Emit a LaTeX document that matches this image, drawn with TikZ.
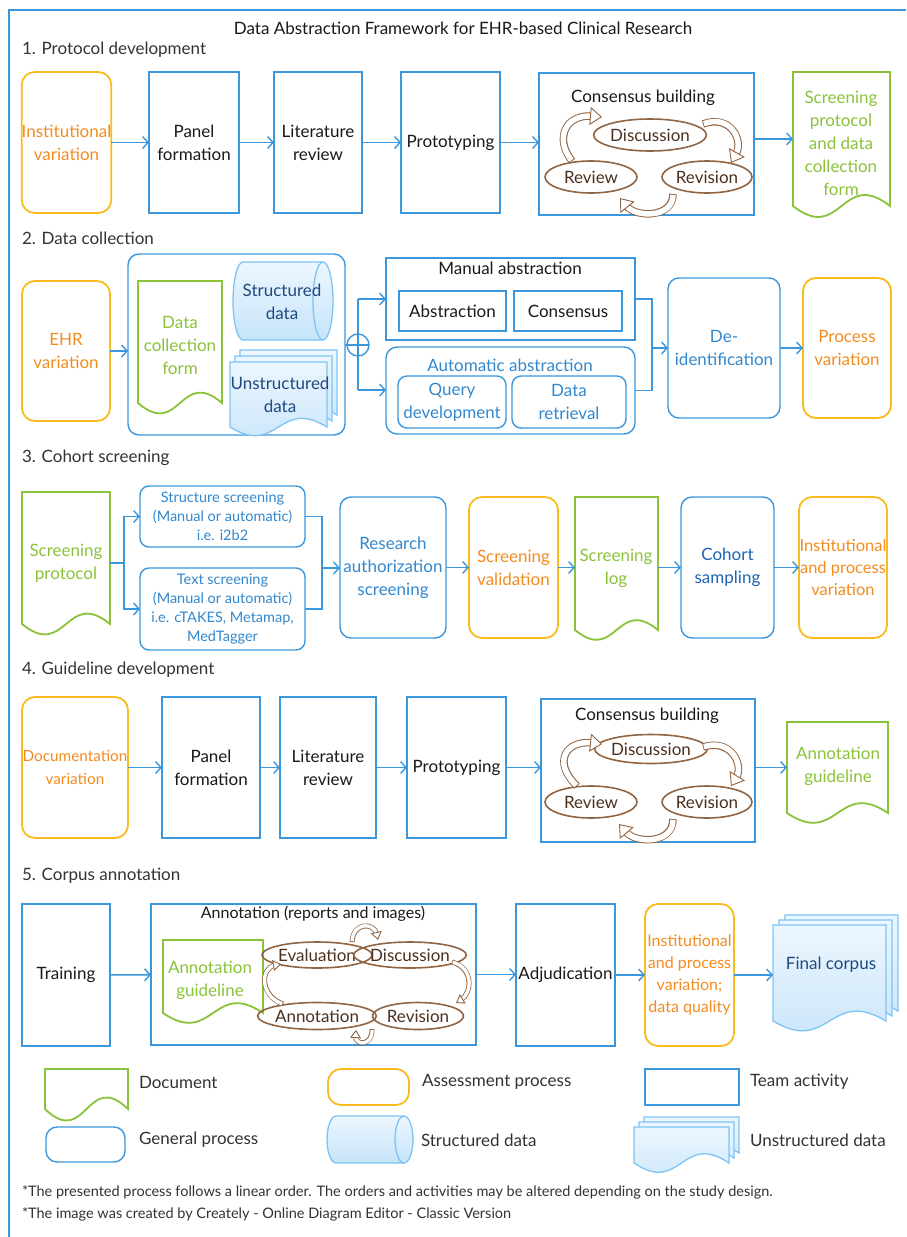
\documentclass[tikz,border=0pt]{standalone}
\usepackage{fontspec}
\setmainfont{Lato}
\usetikzlibrary{arrows.meta,calc,shapes.geometric,backgrounds}
\definecolor{cblue}{RGB}{58,150,221}
\definecolor{cgold}{RGB}{250,187,30}
\definecolor{corange}{RGB}{242,140,30}
\definecolor{cgreen}{RGB}{138,194,58}
\definecolor{cbrown}{RGB}{145,100,66}
\definecolor{cbtext}{RGB}{75,48,30}
\definecolor{ctext}{RGB}{25,25,25}
\definecolor{chead}{RGB}{50,50,50}
\definecolor{cnavy}{RGB}{30,72,128}
\definecolor{cmid}{RGB}{50,135,205}
\definecolor{ccoh}{RGB}{28,100,180}
\definecolor{clb}{RGB}{125,196,244}
\definecolor{cft}{RGB}{236,246,254}
\definecolor{cfb}{RGB}{198,228,250}
\newcommand{\fmain}{\fontsize{17}{23}\selectfont}
\newcommand{\fmed}{\fontsize{16}{22}\selectfont}
\newcommand{\fdoc}{\fontsize{15.3}{23}\selectfont}
\newcommand{\fsmall}{\fontsize{14.5}{19}\selectfont}
\newcommand{\ffoot}{\fontsize{14.5}{18}\selectfont}
% box by corners: style, name, x1, y1, x2, y2, text
\newcommand{\bx}[7]{%
  \pgfmathsetmacro\bxw{#5-#3}\pgfmathsetmacro\bxh{#6-#4}%
  \node[#1, minimum width=\bxw pt, minimum height=\bxh pt] (#2) at ({(#3+#5)/2},{(#4+#6)/2}) {#7};}
% document sheet: node, options, wave, shift
\newcommand{\docsheet}[4]{%
  \path[#2] ([shift={#4}]#1.south west) -- ([shift={#4}]#1.north west) -- ([shift={#4}]#1.north east) -- ([shift={#4}]#1.south east)
    .. controls ([shift={#4},shift={(0,-#3)}]#1.south) and ([shift={#4},shift={(0,#3)}]#1.south) .. ([shift={#4}]#1.south west) -- cycle;}
\newcommand{\multidoc}[4]{%
  \docsheet{#1}{draw=clb, line width=1.3pt, top color=cft, bottom color=cfb}{#2}{(2*#3,-2*#4)}
  \docsheet{#1}{draw=clb, line width=1.3pt, top color=cft, bottom color=cfb}{#2}{(#3,-#4)}
  \docsheet{#1}{draw=clb, line width=1.3pt, top color=cft, bottom color=cfb}{#2}{(0,0)}}
% cylinder lying on its side: x1,y1,x2,y2,rx
\newcommand{\cylinder}[5]{%
  \pgfmathsetmacro\cya{#1+#5}\pgfmathsetmacro\cyb{#3-#5}\pgfmathsetmacro\cyr{(#4-#2)/2}%
  \path[draw=clb, line width=1.3pt, top color=cft, bottom color=cfb] (\cya,#2) -- (\cyb,#2)
    arc[start angle=90,end angle=-90,x radius=#5pt,y radius=\cyr pt] -- (\cya,#4)
    arc[start angle=270,end angle=90,x radius=#5pt,y radius=\cyr pt] -- cycle;
  \draw[draw=clb, line width=1.3pt] (\cyb,#2) arc[start angle=90,end angle=270,x radius=#5pt,y radius=\cyr pt];}
% hollow curved arrow: outer, inner, head length, head width, shorten, path
\newcommand{\harrow}[6]{%
  \draw[cbrown, line width=#1pt, shorten >=#5pt] #6;
  \draw[white, line width=#2pt, shorten >=#5pt, shorten <=0.9pt] #6;
  \draw[cbrown, line width=0.9pt, dash pattern=on 0pt off 3000pt, -{Triangle[length=#3pt, width=#4pt, fill=white]}] #6;}
\tikzset{
  team/.style={draw=cblue, line width=1.4pt},
  gproc/.style={draw=cblue, line width=1.4pt, rounded corners=11pt},
  assess/.style={draw=cgold, line width=1.8pt, rounded corners=13pt, text=corange},
  docn/.style={},
  ell/.style={draw=cbrown, line width=1.6pt, ellipse, text=cbtext},
  arr/.style={draw=cblue, line width=1.4pt, -{Straight Barb[length=5.5pt,width=12pt]}},
  ln/.style={draw=cblue, line width=1.4pt},
  gdoc/.style={draw=cgreen, line width=1.8pt},
  hd/.style={anchor=west, text=chead}
}
\begin{document}
\begin{tikzpicture}[x=1pt,y=-1pt, every node/.style={inner sep=0pt, outer sep=0pt, align=center, font=\fmain, text=ctext}]
\useasboundingbox (0,0) rectangle (906,1237);
\draw[cblue, line width=1.5pt] (9,1237) -- (9,10) -- (906,10);
\node (title) at (463,28) {Data Abstraction Framework for EHR-based Clinical Research};
\node[hd] (h1) at (22,50) {1. Protocol development};
\node[hd] (h2) at (22,238) {2. Data collection};
\node[hd] (h3) at (22,458) {3. Cohort screening};
\node[hd] (h4) at (22,670) {4. Guideline development};
\node[hd] (h5) at (22,876) {5. Corpus annotation};

% ---------- Section 1
\bx{assess}{inst1}{22}{72}{111}{213}{Institutional\\variation}
\bx{team}{panel1}{149}{72}{239}{213}{Panel\\formation}
\bx{team}{lit1}{274}{72}{362}{213}{Literature\\review}
\bx{team}{proto1}{401}{72}{500}{213}{Prototyping}
\bx{team}{cons1}{539}{73}{754}{215}{}
\node (cons1t) at (643,98) {Consensus building};
\node[ell, minimum width=90pt, minimum height=32pt] (disc1) at (650,135) {Discussion};
\node[ell, minimum width=92pt, minimum height=32pt] (rev1) at (591,177) {Review};
\node[ell, minimum width=90pt, minimum height=32pt] (revs1) at (707,177) {Revision};
\harrow{7.5}{5.5}{12}{18}{10}{(572,161) .. controls (554,138) and (566,114) .. (602,117)}
\harrow{7.5}{5.5}{12}{18}{10}{(703,124) .. controls (730,114) and (744,140) .. (731,163)}
\harrow{7.5}{5.5}{12}{18}{10}{(673,194) .. controls (673,218) and (636,218) .. (620,198)}
\bx{docn}{doc1}{793}{72}{890}{206}{}
\docsheet{doc1}{gdoc}{38}{(0,0)}
\node[text=cgreen] (doc1t) at (841,143) {Screening\\protocol\\and data\\collection\\form};
\draw[arr] (inst1) -- (panel1);
\draw[arr] (panel1) -- (lit1);
\draw[arr] (lit1) -- (proto1);
\draw[arr] (proto1.east) -- (proto1.east -| cons1.west);
\draw[arr] (cons1.east |- doc1) -- (doc1.west);

% ---------- Section 2
\bx{assess}{ehr}{22}{281}{110}{421}{EHR\\variation}
\bx{gproc}{cont}{128}{254}{345}{435}{}
\bx{docn}{dcf}{138}{281}{222}{403}{}
\docsheet{dcf}{gdoc}{36}{(0,0)}
\node[text=cgreen] (dcft) at (180,345) {Data\\collection\\form};
\cylinder{233}{262}{333}{340}{10}
\node[text=cnavy] (sdata) at (282,302) {Structured\\data};
\bx{docn}{udata}{230}{362}{327}{427}{}
\multidoc{udata}{30}{5}{6}
\node[text=cnavy] (udatat) at (280,395) {Unstructured\\data};
\node[circle, draw=cblue, line width=1.4pt, minimum size=22pt] (plus) at (358,345) {};
\draw[ln] (plus.west) -- (plus.east);
\draw[ln] (cont.east |- plus) -- (plus.west);
\bx{team}{manual}{386}{258}{635}{340}{}
\node (manualt) at (510,268) {Manual abstraction};
\bx{team}{abst}{399}{291}{506}{331}{Abstraction}
\bx{team}{consn}{514}{291}{622}{331}{Consensus}
\bx{gproc}{auto}{386}{347}{635}{434}{}
\node[text=cmid] (autot) at (510,365) {Automatic abstraction};
\bx{gproc, rounded corners=9pt, text=cmid}{query}{398}{376}{506}{428}{Query\\development}
\bx{gproc, rounded corners=9pt, text=cmid}{retr}{512}{376}{626}{428}{Data\\retrieval}
\coordinate (ptop) at (358,299);
\coordinate (pbot) at (358,390);
\draw[ln] (ptop) -- (pbot);
\draw[arr] (ptop) -- (ptop -| manual.west);
\draw[arr] (pbot) -- (pbot -| auto.west);
\coordinate (j2) at (652,348);
\draw[ln] (manual.east) -| (j2);
\draw[ln] (auto.east) -| (j2);
\bx{gproc, text=cmid}{deid}{668}{278}{780}{418}{De-\\identification}
\bx{assess}{pvar}{803}{278}{891}{418}{Process\\variation}
\draw[arr] (j2) -- (j2 -| deid.west);
\draw[arr] (ehr) -- (ehr -| cont.west);
\draw[arr] (deid) -- (pvar);

% ---------- Section 3
\bx{docn}{sp}{22}{492}{110}{624}{}
\docsheet{sp}{gdoc}{36}{(0,0)}
\node[text=cgreen] (spt) at (66,563) {Screening\\protocol};
\bx{gproc, rounded corners=9pt, font=\fsmall, text=cmid}{sscr}{140}{486}{305}{547}{Structure screening\\(Manual or automatic)\\i.e. i2b2}
\bx{gproc, rounded corners=9pt, font=\fsmall, text=cmid}{tscr}{140}{568}{305}{650}{Text screening\\(Manual or automatic)\\i.e. cTAKES, Metamap,\\MedTagger}
\coordinate (j3a) at (124,563);
\draw[ln] (j3a -| sp.east) -- (j3a);
\draw[arr] (j3a) |- (sscr.west);
\draw[arr] (j3a) |- (tscr.west);
\bx{gproc, text=cmid}{res}{340}{497}{446}{638}{Research\\authorization\\screening}
\coordinate (j3b) at (322,568);
\draw[ln] (sscr.east) -| (j3b);
\draw[ln] (tscr.east) -| (j3b);
\draw[arr] (j3b) -- (j3b -| res.west);
\bx{assess}{sval}{469}{497}{558}{638}{Screening\\validation}
\bx{docn}{slog}{575}{497}{658}{630}{}
\docsheet{slog}{gdoc}{34}{(0,0)}
\node[text=cgreen] (slogt) at (616,568) {Screening\\log};
\bx{gproc, text=ccoh}{coh}{681}{497}{774}{638}{Cohort\\sampling}
\bx{assess, font=\fontsize{16.5}{22}\selectfont}{ipv}{799}{497}{887}{638}{Institutional\\and process\\variation}
\draw[arr] (res) -- (sval);
\draw[arr] (sval.east) -- (sval.east -| slog.west);
\draw[arr] (slog.east |- coh) -- (coh.west);
\draw[arr] (coh) -- (ipv);

% ---------- Section 4
\bx{assess, font=\fdoc}{docv}{22}{697}{128}{838}{Documentation\\variation}
\bx{team}{panel4}{162}{697}{260}{838}{Panel\\formation}
\bx{team}{lit4}{280}{697}{376}{838}{Literature\\review}
\bx{team}{proto4}{407}{697}{506}{838}{Prototyping}
\bx{team}{cons4}{541}{699}{755}{842}{}
\node (cons4t) at (647,716) {Consensus building};
\node[ell, minimum width=90pt, minimum height=29pt] (disc4) at (651,749) {Discussion};
\node[ell, minimum width=92pt, minimum height=32pt] (rev4) at (591,802) {Review};
\node[ell, minimum width=90pt, minimum height=32pt] (revs4) at (707,802) {Revision};
\harrow{7.5}{5.5}{12}{18}{10}{(577,786) .. controls (552,762) and (566,740) .. (602,744)}
\harrow{7.5}{5.5}{12}{18}{10}{(703,747) .. controls (731,738) and (744,765) .. (731,786)}
\harrow{7.5}{5.5}{12}{18}{10}{(673,819) .. controls (673,844) and (636,844) .. (619,824)}
\bx{docn}{ag4}{787}{722}{888}{813}{}
\docsheet{ag4}{gdoc}{34}{(0,0)}
\node[text=cgreen] (ag4t) at (838,766) {Annotation\\guideline};
\draw[arr] (docv) -- (panel4);
\draw[arr] (panel4) -- (lit4);
\draw[arr] (lit4) -- (proto4);
\draw[arr] (proto4.east) -- (proto4.east -| cons4.west);
\draw[arr] (cons4.east |- ag4) -- (ag4.west);

% ---------- Section 5
\bx{team}{train}{22}{904}{110}{1046}{Training}
\bx{team}{annc}{151}{904}{476}{1045}{}
\node[font=\fmed] (annct) at (313,914) {Annotation (reports and images)};
\bx{docn}{ag5}{163}{940}{263}{1013}{}
\docsheet{ag5}{gdoc}{34}{(0,0)}
\node[text=cgreen] (ag5t) at (210,980) {Annotation\\guideline};
\node[ell, minimum width=91pt, minimum height=26pt] (eval5) at (317,955) {Evaluation};
\node[ell, minimum width=90pt, minimum height=26pt] (disc5) at (410,955) {Discussion};
\node[ell, minimum width=91pt, minimum height=27pt] (ann5) at (317,1016) {Annotation};
\node[ell, minimum width=91pt, minimum height=27pt] (revs5) at (418,1016) {Revision};
\harrow{5}{3.4}{8}{11}{6}{(352,942) .. controls (353,922) and (374,922) .. (378,940)}
\harrow{5}{3.4}{8}{11}{6}{(452,962) .. controls (474,968) and (472,993) .. (456,1003)}
\harrow{5}{3.4}{8}{11}{6}{(372,1029) .. controls (373,1046) and (355,1046) .. (356,1030)}
\harrow{5}{3.4}{8}{11}{6}{(283,1004) .. controls (260,996) and (260,968) .. (281,964)}
\bx{team}{adj}{516}{904}{615}{1046}{Adjudication}
\bx{assess, font=\fmed}{ipvdq}{645}{904}{734}{1046}{Institutional\\and process\\variation;\\data quality}
\bx{docn}{fc}{773}{925}{886}{1021}{}
\multidoc{fc}{34}{6}{5}
\node[text=cnavy] (fct) at (831,965) {Final corpus};
\draw[arr] (train) -- (annc);
\draw[arr] (annc.east) -- (annc.east -| adj.west);
\draw[arr] (adj) -- (ipvdq);
\draw[arr] (ipvdq.east) -- (ipvdq.east -| fc.west);

% ---------- Legend
\bx{docn}{lgdoc}{45}{1069}{128}{1109}{}
\docsheet{lgdoc}{gdoc}{40}{(0,0)}
\node[hd] (lgdoct) at (139,1082) {Document};
\bx{assess}{lgass}{328}{1069}{409}{1105}{}
\node[hd] (lgasst) at (422,1082) {Assessment process};
\bx{team}{lgteam}{645}{1069}{739}{1105}{}
\node[hd] (lgteamt) at (750,1082) {Team activity};
\bx{gproc}{lggen}{46}{1127}{125}{1162}{}
\node[hd] (lggent) at (139,1140) {General process};
\cylinder{327}{1116}{413}{1163}{9}
\node[hd] (lgcylt) at (421,1140) {Structured data};
\bx{docn}{lgun}{634}{1127}{729}{1163}{}
\multidoc{lgun}{32}{5}{5}
\node[hd] (lgunt) at (750,1140) {Unstructured data};
\node[hd, font=\ffoot] (fn1) at (22,1192) {*The presented process follows a linear order. The orders and activities may be altered depending on the study design.};
\node[hd, font=\ffoot] (fn2) at (22,1214) {*The image was created by Creately - Online Diagram Editor - Classic Version};
\end{tikzpicture}
\end{document}
